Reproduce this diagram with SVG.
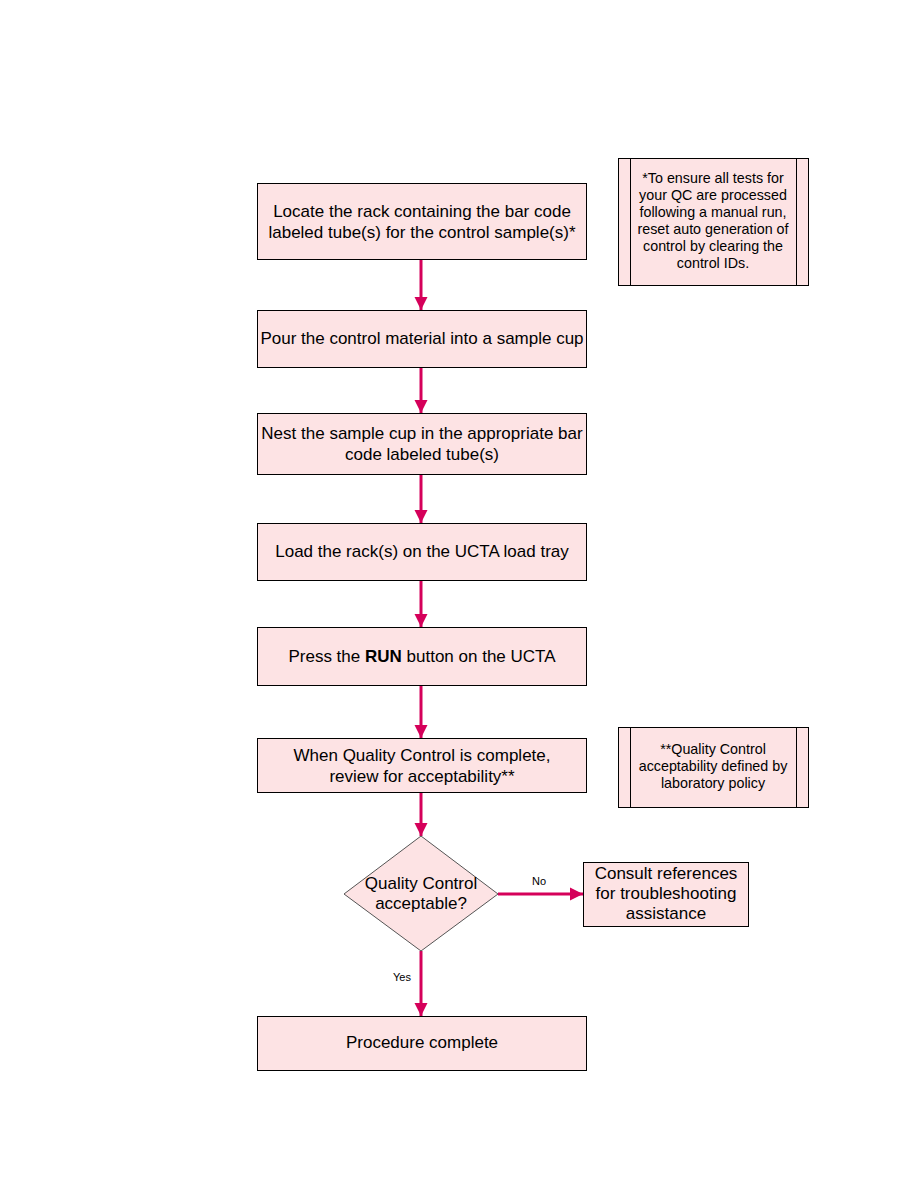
<svg xmlns="http://www.w3.org/2000/svg" width="918" height="1188" viewBox="0 0 918 1188">
<style>
.box{fill:#fde3e4;stroke:#000;stroke-width:1}
.t{font-family:"Liberation Sans",Arial,sans-serif;font-size:17px;fill:#000;text-anchor:middle}
.n{font-family:"Liberation Sans",Arial,sans-serif;font-size:14.3px;fill:#000;text-anchor:middle}
.l{font-family:"Liberation Sans",Arial,sans-serif;font-size:11px;fill:#000;text-anchor:middle}
.c{stroke:#d5005a;stroke-width:3;fill:none}
</style>
<defs>
<marker id="ah" markerWidth="4.5" markerHeight="4.5" refX="4.5" refY="2.25" orient="auto" markerUnits="strokeWidth">
<path d="M0,0 L4.5,2.25 L0,4.5 z" fill="#d5005a"/>
</marker>
</defs>
<rect width="918" height="1188" fill="#fff"/>
<g id="connectors">
<line class="c" x1="421" y1="259" x2="421" y2="310" marker-end="url(#ah)"/>
<line class="c" x1="421" y1="367" x2="421" y2="413" marker-end="url(#ah)"/>
<line class="c" x1="421" y1="474" x2="421" y2="523" marker-end="url(#ah)"/>
<line class="c" x1="421" y1="580" x2="421" y2="627" marker-end="url(#ah)"/>
<line class="c" x1="421" y1="685" x2="421" y2="738" marker-end="url(#ah)"/>
<line class="c" x1="421" y1="792" x2="421" y2="836" marker-end="url(#ah)"/>
<line class="c" x1="498" y1="894" x2="583" y2="894" marker-end="url(#ah)"/>
<line class="c" x1="421" y1="951" x2="421" y2="1016" marker-end="url(#ah)"/>
<text class="l" x="539" y="885">No</text>
<text class="l" x="402" y="981">Yes</text>
</g>
<g id="n1">
<rect class="box" x="257.5" y="183.5" width="329" height="76"/>
<text class="t" x="422" y="217">Locate the rack containing the bar code</text>
<text class="t" x="422" y="238">labeled tube(s) for the control sample(s)*</text>
</g>
<g id="note1">
<rect class="box" x="618.5" y="158.5" width="190" height="127"/>
<line x1="630.5" y1="158.5" x2="630.5" y2="285.5" stroke="#000"/>
<line x1="796.5" y1="158.5" x2="796.5" y2="285.5" stroke="#000"/>
<text class="n" x="713" y="183">*To ensure all tests for</text>
<text class="n" x="713" y="200">your QC are processed</text>
<text class="n" x="713" y="217">following a manual run,</text>
<text class="n" x="713" y="234">reset auto generation of</text>
<text class="n" x="713" y="251">control by clearing the</text>
<text class="n" x="713" y="268">control IDs.</text>
</g>
<g id="n2">
<rect class="box" x="257.5" y="310.5" width="329" height="57"/>
<text class="t" x="422" y="344">Pour the control material into a sample cup</text>
</g>
<g id="n3">
<rect class="box" x="257.5" y="413.5" width="329" height="61"/>
<text class="t" x="422" y="439">Nest the sample cup in the appropriate bar</text>
<text class="t" x="422" y="460">code labeled tube(s)</text>
</g>
<g id="n4">
<rect class="box" x="257.5" y="523.5" width="329" height="57"/>
<text class="t" x="422" y="557">Load the rack(s) on the UCTA load tray</text>
</g>
<g id="n5">
<rect class="box" x="257.5" y="627.5" width="329" height="58"/>
<text class="t" x="422" y="662">Press the <tspan font-weight="bold">RUN</tspan> button on the UCTA</text>
</g>
<g id="n6">
<rect class="box" x="257.5" y="738.5" width="329" height="54"/>
<text class="t" x="422" y="761">When Quality Control is complete,</text>
<text class="t" x="422" y="782">review for acceptability**</text>
</g>
<g id="note2">
<rect class="box" x="618.5" y="727.5" width="190" height="80"/>
<line x1="630.5" y1="727.5" x2="630.5" y2="807.5" stroke="#000"/>
<line x1="796.5" y1="727.5" x2="796.5" y2="807.5" stroke="#000"/>
<text class="n" x="713" y="754">**Quality Control</text>
<text class="n" x="713" y="771">acceptability defined by</text>
<text class="n" x="713" y="788">laboratory policy</text>
</g>
<g id="d1">
<polygon points="421,836 498,894 421,951 344,894" fill="#fde3e4" stroke="#555" stroke-width="1"/>
<text class="t" x="421" y="889">Quality Control</text>
<text class="t" x="421" y="909">acceptable?</text>
</g>
<g id="n7">
<rect class="box" x="583.5" y="862.5" width="165" height="64"/>
<text class="t" x="666" y="879">Consult references</text>
<text class="t" x="666" y="899">for troubleshooting</text>
<text class="t" x="666" y="919">assistance</text>
</g>
<g id="n8">
<rect class="box" x="257.5" y="1016.5" width="329" height="54"/>
<text class="t" x="422" y="1048">Procedure complete</text>
</g>
</svg>
